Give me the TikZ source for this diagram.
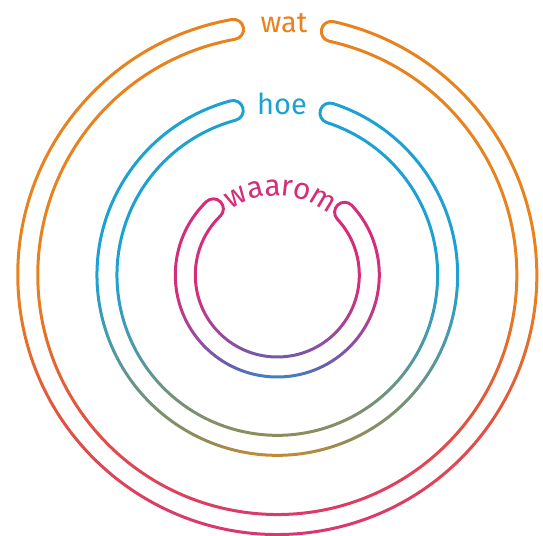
\documentclass[tikz,border=0pt]{standalone}
\usepackage{fontspec}
\setmainfont{Fira Sans}
\usepackage{tikz}

\definecolor{watorange}{HTML}{E8821E}
\definecolor{watred}{HTML}{E2533F}
\definecolor{watpink}{HTML}{D8307A}
\definecolor{hoeblue}{HTML}{1DA1D3}
\definecolor{hoeteal}{HTML}{4B9AA6}
\definecolor{hoeolive}{HTML}{958B55}
\definecolor{hoeorange}{HTML}{E48A1C}
\definecolor{waarompink}{HTML}{D42E7A}
\definecolor{waaromviolet}{HTML}{A0469C}
\definecolor{waarompurple}{HTML}{6360B0}
\definecolor{waaromblue}{HTML}{1CA4DA}

\pgfdeclareverticalshading{watshade}{100bp}{color(0bp)=(watpink); color(25bp)=(watpink); color(38bp)=(watred); color(50bp)=(watorange); color(100bp)=(watorange)}
\pgfdeclareverticalshading{hoeshade}{100bp}{color(0bp)=(hoeorange); color(26.5bp)=(hoeorange); color(29.5bp)=(hoeolive); color(42bp)=(hoeteal); color(52bp)=(hoeblue); color(100bp)=(hoeblue)}
\pgfdeclareverticalshading{waaromshade}{100bp}{color(0bp)=(waaromblue); color(25bp)=(waaromblue); color(31bp)=(waarompurple); color(40bp)=(waaromviolet); color(50bp)=(waarompink); color(100bp)=(waarompink)}

\def\lw{1.5pt}
% center, mid radius, half width, left angle, right angle, shading
\newcommand\ringband[6]{%
  \shade[shading=#6, even odd rule]
    (#1) ++({#4}:{#2+#3+\lw})
      arc[start angle={#4}, end angle={#5+360}, radius={#2+#3+\lw}]
      arc[start angle={#5}, end angle={#5+180}, radius={#3+\lw}]
      arc[start angle={#5+360}, end angle={#4}, radius={#2-#3-\lw}]
      arc[start angle={#4+180}, end angle={#4+360}, radius={#3+\lw}] -- cycle
    (#1) ++({#4}:{#2+#3-\lw})
      arc[start angle={#4}, end angle={#5+360}, radius={#2+#3-\lw}]
      arc[start angle={#5}, end angle={#5+180}, radius={#3-\lw}]
      arc[start angle={#5+360}, end angle={#4}, radius={#2-#3+\lw}]
      arc[start angle={#4+180}, end angle={#4+360}, radius={#3-\lw}] -- cycle;}

\begin{document}
\begin{tikzpicture}[ringlabel/.style={anchor=base, font=\fontsize{29}{29}\selectfont},
    arcletter/.style={anchor=base, inner sep=0pt, font=\fontsize{30}{30}\selectfont, text=waarompink}]
\useasboundingbox (0pt,0pt) rectangle (543pt,535pt);
\coordinate (c) at (277.3pt,260pt);

% wat
\ringband{c}{249.5pt}{10pt}{100.1}{77.5}{watshade}
\node[ringlabel, text=watorange] (wat) at (284pt,502pt) {wat};

% hoe
\ringband{c}{170.3pt}{10pt}{105}{72}{hoeshade}
\node[ringlabel, text=hoeblue] (hoe) at (282pt,420pt) {hoe};

% waarom
\ringband{c}{92pt}{10pt}{134}{43}{waaromshade}
\foreach \ch/\ang [count=\i] in {w/118, a/104.2, a/93.1, r/83.6, o/73.5, m/58.9}
  \node[arcletter, rotate=\ang-90] (waarom\i) at ([shift={(\ang:79.5pt)}]c) {\ch};
\end{tikzpicture}
\end{document}
